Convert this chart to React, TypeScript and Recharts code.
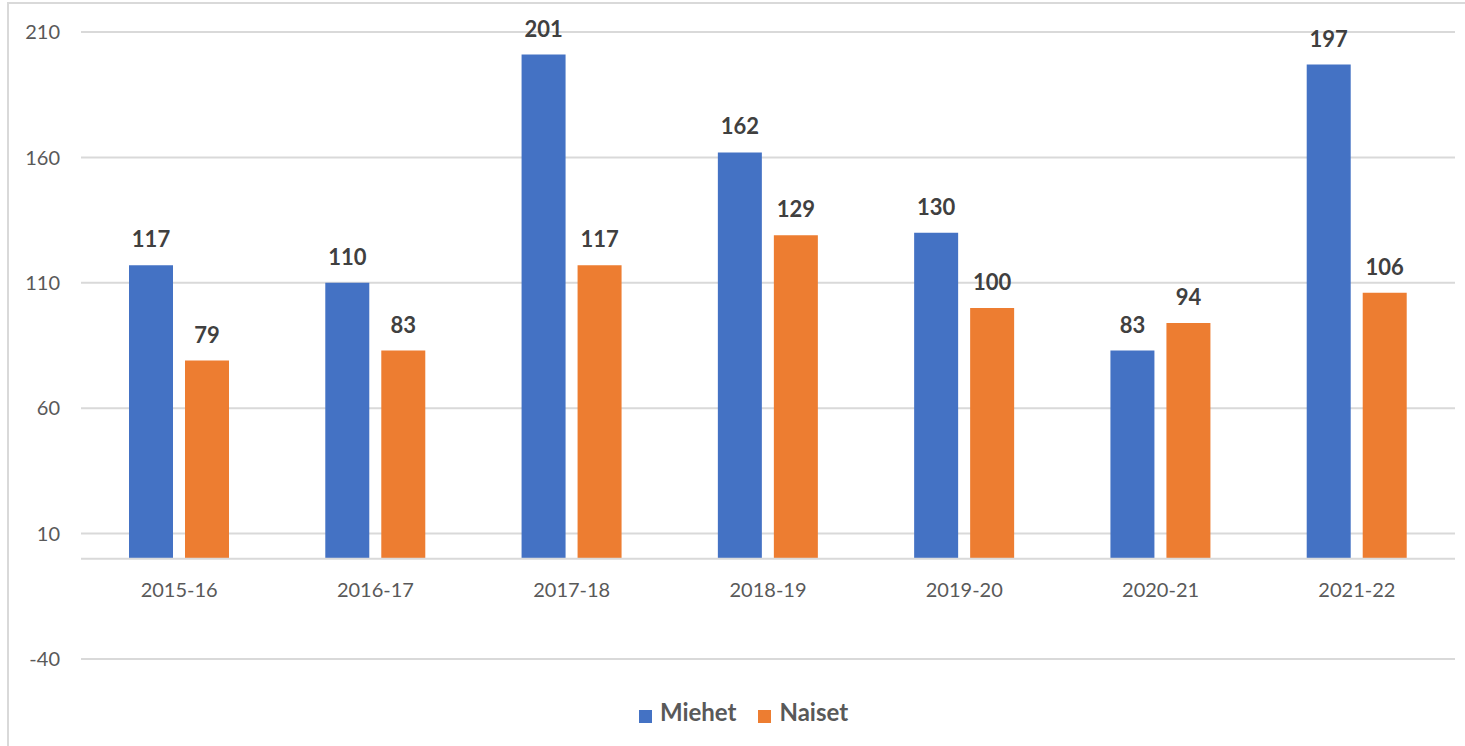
import React from "react";
import {
  BarChart,
  Bar,
  XAxis,
  YAxis,
  CartesianGrid,
  Legend,
  LabelList,
  ReferenceLine,
} from "recharts";

const seasons = ["2015-16", "2016-17", "2017-18", "2018-19", "2019-20", "2020-21", "2021-22"];
const miehet = [117, 110, 201, 162, 130, 83, 197];
const naiset = [79, 83, 117, 129, 100, 94, 106];
const yTicks = [-40, 10, 60, 110, 160, 210];

const data = seasons.map((season, i) => ({
  season,
  miehet: miehet[i],
  naiset: naiset[i],
}));

const FONT = "Lato, 'Open Sans', sans-serif";

export default function App() {
  return (
    <div
      style={{
        position: "absolute",
        left: 0,
        top: 0,
        width: 1465,
        height: 746,
        overflow: "hidden",
        background: "#fff",
        fontFamily: FONT,
      }}
    >
      <div
        style={{
          position: "absolute",
          left: 7,
          top: 2,
          width: 1500,
          height: 800,
          border: "2px solid #d9d9d9",
          boxSizing: "border-box",
        }}
      />
      <BarChart
        width={1465}
        height={746}
        data={data}
        margin={{ top: 32, right: 10, left: 0, bottom: 0 }}
        barSize={44}
        barGap={12}
        style={{ position: "absolute", left: 0, top: 0 }}
      >
        <CartesianGrid vertical={false} stroke="#d9d9d9" strokeWidth={2} />
        <ReferenceLine y={0} stroke="#d9d9d9" strokeWidth={2} />
        <XAxis
          dataKey="season"
          axisLine={false}
          tickLine={false}
          height={58}
          tick={{ fill: "#595959", fontSize: 20, fontFamily: FONT, dy: -84 }}
        />
        <YAxis
          domain={[-40, 210]}
          ticks={yTicks}
          interval={0}
          axisLine={false}
          tickLine={false}
          width={81}
          tickSize={6}
          tickMargin={15}
          tick={{ fill: "#595959", fontSize: 20, fontFamily: FONT }}
        />
        <Legend
          verticalAlign="bottom"
          iconType="square"
          iconSize={13}
          wrapperStyle={{ left: 22, width: 1465, bottom: 20, fontFamily: FONT }}
          formatter={(value: string) => (
            <span
              style={{
                color: "#595959",
                fontSize: 24,
                fontWeight: 700,
                marginLeft: 4,
                marginRight: 12,
              }}
            >
              {value}
            </span>
          )}
        />
        <Bar dataKey="miehet" name="Miehet" fill="#4472c4" isAnimationActive={false}>
          <LabelList
            dataKey="miehet"
            position="top"
            offset={18}
            style={{ fill: "#404040", fontSize: 22, fontWeight: 700, fontFamily: FONT }}
          />
        </Bar>
        <Bar dataKey="naiset" name="Naiset" fill="#ed7d31" isAnimationActive={false}>
          <LabelList
            dataKey="naiset"
            position="top"
            offset={18}
            style={{ fill: "#404040", fontSize: 22, fontWeight: 700, fontFamily: FONT }}
          />
        </Bar>
      </BarChart>
    </div>
  );
}
